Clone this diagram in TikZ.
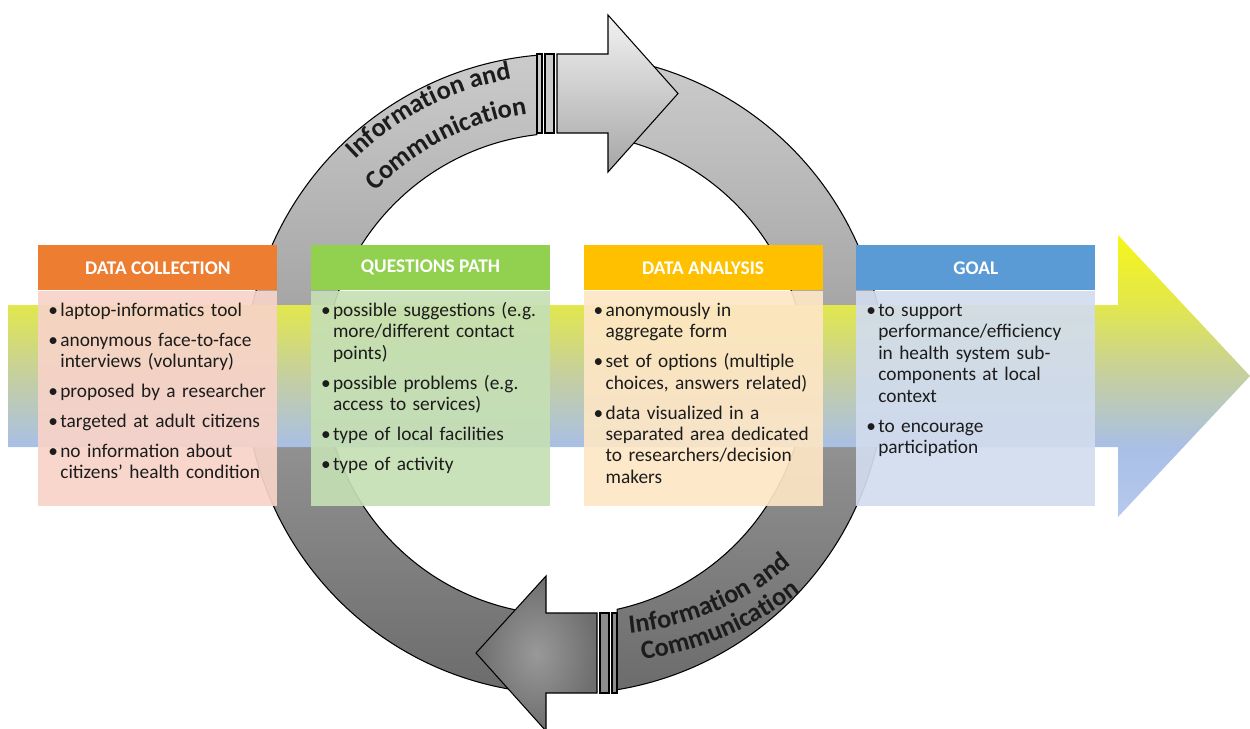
\documentclass[tikz,border=0pt]{standalone}
\usepackage{fontspec}
\setmainfont{Carlito}
\usepackage{enumitem}
\usetikzlibrary{positioning, decorations.text}

\definecolor{dcHead}{HTML}{ED7D31}
\definecolor{dcBody}{HTML}{F7D3C8}
\definecolor{qpHead}{HTML}{92D050}
\definecolor{qpBody}{HTML}{C5DFB4}
\definecolor{daHead}{HTML}{FFC000}
\definecolor{daBody}{HTML}{FDE6C5}
\definecolor{goHead}{HTML}{5B9BD5}
\definecolor{goBody}{HTML}{D1DCEE}
\definecolor{ringTop}{HTML}{CBCBCB}
\definecolor{ringBot}{HTML}{6C6C6C}
\definecolor{txtDark}{HTML}{1C1C1C}
\definecolor{bandA}{HTML}{F6F61A}
\definecolor{bandB}{HTML}{E2E74C}
\definecolor{bandC}{HTML}{C5CFA0}
\definecolor{bandD}{HTML}{A9BFE6}
\definecolor{bandE}{HTML}{B6C9EE}

\pgfdeclareverticalshading{band_shade}{100bp}{color(0bp)=(bandE); color(25bp)=(bandE);
  color(37.4bp)=(bandD); color(50bp)=(bandC); color(62.6bp)=(bandB);
  color(75bp)=(bandA); color(100bp)=(bandA)}

\setlist[itemize]{label=\textbullet, leftmargin=0.24cm, labelwidth=0.24cm, labelsep=0pt,
  align=left, itemsep=4.8pt, topsep=0pt, parsep=0pt, partopsep=0pt}

\tikzset{
  ring_arc/.style = {top color=ringTop, bottom color=ringBot, draw=black, line width=0.6pt},
  stripe_lt/.style = {fill=ringTop, draw=black, line width=0.6pt},
  stripe_dk/.style = {fill=black!45, draw=black, line width=0.6pt},
  head_lt/.style = {top color=black!5, bottom color=black!35, draw=black, line width=0.6pt},
  head_dk/.style = {inner color=black!40, outer color=black!57, draw=black, line width=0.6pt},
  ring_txt/.style = {decorate, decoration={text along path, text align=center,
    text color=txtDark, text={|\fontsize{15pt}{18pt}\selectfont\bfseries|#1}}},
  box_head/.style = {minimum width=4.78cm, minimum height=0.9cm, inner sep=0pt,
    text=white, font=\fontsize{11pt}{13pt}\selectfont\bfseries},
  box_body/.style = {inner xsep=0.2cm, inner ysep=0.08cm, text width=4.38cm,
    text height=0pt, text depth=4.14cm, fill opacity=0.92, text opacity=1,
    align=left, text=txtDark, font=\fontsize{11pt}{12.2pt}\selectfont}}

\begin{document}
\begin{tikzpicture}[x=0.02cm, y=0.02cm]
\useasboundingbox (0,0) rectangle (1250,-728);

\begin{scope}[shift={(565,-374)}]
 \path[ring_arc] (262:320) arc (262:95:320) -- (96.7:241) arc (96.7:262:241) -- cycle;
 \path[ring_arc] (77:320) arc (77:-80.6:320) -- (-77.5:241) arc (-77.5:77:241) -- cycle;
 \path[ring_txt={Information and}] (150:300) arc (150:84.6:300);
 \path[ring_txt={Communication}] (150:263) arc (150:84.4:263);
\end{scope}

\path[stripe_lt] (537,-54) rectangle (542,-133);
\path[stripe_lt] (545,-54) rectangle (554,-133);
\path[head_lt] (557,-54) -- (608,-54) -- (608,-15) -- (678,-93.5) -- (608,-172)
  -- (608,-133) -- (557,-133) -- cycle;

\path[stripe_dk] (612,-613) rectangle (617,-693);
\path[stripe_dk] (600,-613) rectangle (609,-693);
\path[head_dk] (597,-613) -- (546,-613) -- (546,-576) -- (476,-653) -- (546,-731)
  -- (546,-693) -- (597,-693) -- cycle;

\begin{scope}[shift={(600,-340)}]
 \path[ring_txt={Information and}] (-100:295) arc (-100:-33.8:295);
 \path[ring_txt={Communication}] (-100:322) arc (-100:-34:322);
\end{scope}

\shade[shading=band_shade] (8,-305) -- (1118,-305) -- (1118,-235) -- (1250,-376)
  -- (1118,-517) -- (1118,-447) -- (8,-447) -- cycle;

\node[box_head, fill=dcHead, anchor=north west] (dc_head) at (38,-245) {DATA COLLECTION};
\node[box_body, fill=dcBody, below=0pt of dc_head] (dc_body) {
\begin{itemize}
 \item laptop-informatics tool
 \item anonymous face-to-face\\ interviews (voluntary)
 \item proposed by a researcher
 \item targeted at adult citizens
 \item no information about\\ citizens’ health condition
\end{itemize}};

\node[box_head, fill=qpHead, right=0.66cm of dc_head] (qp_head) {QUESTIONS PATH};
\node[box_body, fill=qpBody, below=0pt of qp_head] (qp_body) {
\begin{itemize}
 \item possible suggestions (e.g.\\ more/different contact\\ points)
 \item possible problems (e.g.\\ access to services)
 \item type of local facilities
 \item type of activity
\end{itemize}};

\node[box_head, fill=daHead, right=0.66cm of qp_head] (da_head) {DATA ANALYSIS};
\node[box_body, fill=daBody, below=0pt of da_head] (da_body) {
\begin{itemize}
 \item anonymously in\\ aggregate form
 \item set of options (multiple\\ choices, answers related)
 \item data visualized in a\\ separated area dedicated\\ to researchers/decision\\ makers
\end{itemize}};

\node[box_head, fill=goHead, right=0.66cm of da_head] (go_head) {GOAL};
\node[box_body, fill=goBody, below=0pt of go_head] (go_body) {
\begin{itemize}
 \item to support\\ performance/efficiency\\ in health system sub-\\ components at local\\ context
 \item to encourage\\ participation
\end{itemize}};
\end{tikzpicture}
\end{document}
